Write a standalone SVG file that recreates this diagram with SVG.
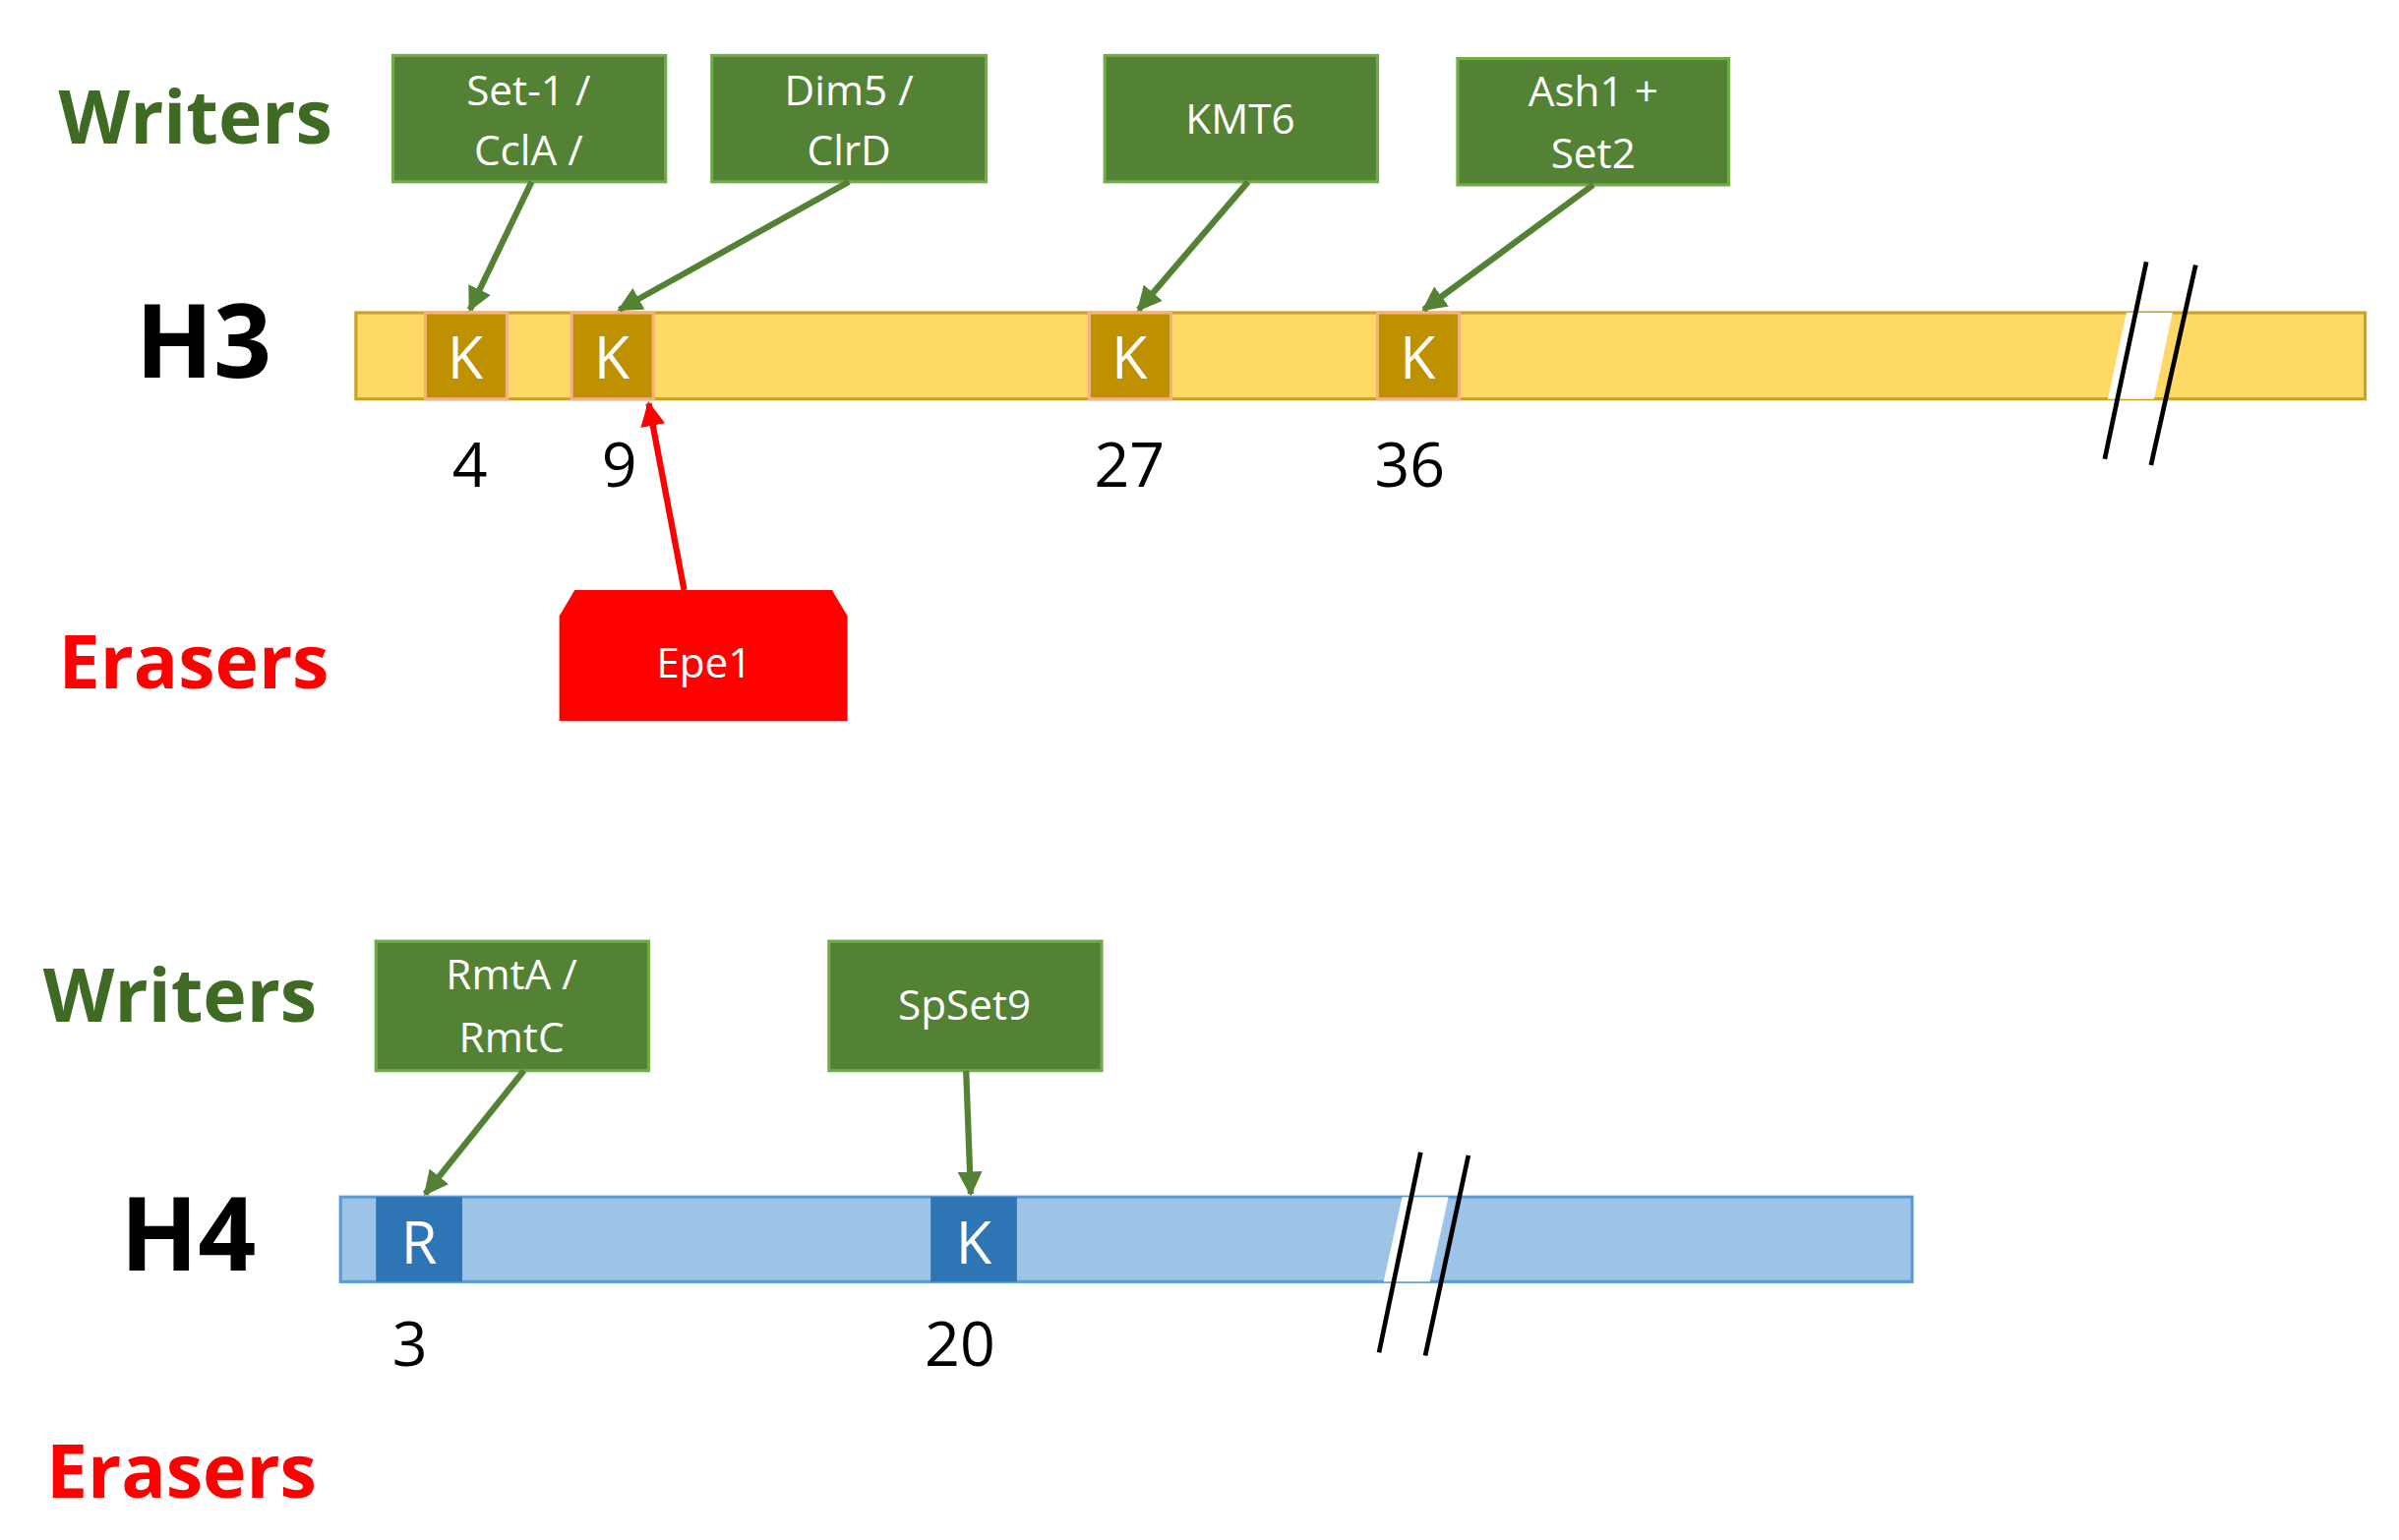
<svg xmlns="http://www.w3.org/2000/svg" width="2439" height="1566" viewBox="0 0 2439 1566">
<defs>
<marker id="ag" viewBox="0 0 10 10" refX="9" refY="5" markerWidth="4" markerHeight="4" orient="auto"><path d="M0,0L10,5L0,10z" fill="#548235"/></marker>
<marker id="ar" viewBox="0 0 10 10" refX="9" refY="5" markerWidth="4" markerHeight="4" orient="auto"><path d="M0,0L10,5L0,10z" fill="#ff0000"/></marker>
</defs>
<style>
text{font-family:"Open Sans","Liberation Sans",sans-serif}
.lbl{font-size:48px;font-weight:bold}
.wr{fill:#3f6a23}
.er{fill:#ff0000}
.hn{font-size:66px;font-weight:bold;fill:#000}
.box{fill:#548235;stroke:#70ad47;stroke-width:2}
.bt{fill:#fff;font-size:27px;text-anchor:middle}
.kb{fill:#bf9000;stroke:#f4b183;stroke-width:2}
.rb{fill:#2e75b6}
.kt{fill:#fff;font-size:38px;text-anchor:middle}
.num{font-size:40px;text-anchor:middle;fill:#000}
.ga{stroke:#548235;stroke-width:4;fill:none;marker-end:url(#ag)}
.ra{stroke:#ff0000;stroke-width:4;fill:none;marker-end:url(#ar)}
.brk{stroke:#000;stroke-width:3}
</style>
<rect width="2439" height="1566" fill="#fff"/>
<g transform="scale(1.5665)">
<text class="lbl wr" x="38" y="93">Writers</text>
<text class="hn" x="88" y="245">H3</text>
<text class="lbl er" x="38" y="447">Erasers</text>
<text class="lbl wr" x="28" y="663">Writers</text>
<text class="hn" x="78" y="825">H4</text>
<text class="lbl er" x="30" y="972">Erasers</text>

<g id="h3bar">
<rect x="231" y="203" width="1304" height="56" fill="#ffd966" stroke="#c9a227" stroke-width="2"/>
<polygon points="1380,203 1410,203 1398,259 1368,259" fill="#fff"/>
</g>
<g id="h3k4"><rect class="kb" x="276" y="203" width="53" height="56"/><text class="kt" x="302" y="246">K</text></g>
<g id="h3k9"><rect class="kb" x="371" y="203" width="53" height="56"/><text class="kt" x="397" y="246">K</text></g>
<g id="h3k27"><rect class="kb" x="707" y="203" width="53" height="56"/><text class="kt" x="733" y="246">K</text></g>
<g id="h3k36"><rect class="kb" x="894" y="203" width="53" height="56"/><text class="kt" x="920" y="246">K</text></g>
<text class="num" x="305" y="316">4</text>
<text class="num" x="402" y="316">9</text>
<text class="num" x="733" y="316">27</text>
<text class="num" x="915" y="316">36</text>
<line class="brk" x1="1366" y1="298" x2="1393" y2="170"/>
<line class="brk" x1="1396" y1="302" x2="1425" y2="172"/>

<g id="set1"><rect class="box" x="255" y="36" width="177" height="82"/><text class="bt" x="343" y="68">Set-1 /</text><text class="bt" x="343" y="107">CclA /</text></g>
<g id="dim5"><rect class="box" x="462" y="36" width="178" height="82"/><text class="bt" x="551" y="68">Dim5 /</text><text class="bt" x="551" y="107">ClrD</text></g>
<g id="kmt6"><rect class="box" x="717" y="36" width="177" height="82"/><text class="bt" x="805" y="87">KMT6</text></g>
<g id="ash1"><rect class="box" x="946" y="38" width="176" height="82"/><text class="bt" x="1034" y="69">Ash1 +</text><text class="bt" x="1034" y="109">Set2</text></g>
<g id="epe1"><polygon points="363,468 363,400 373,383 540,383 550,400 550,468" fill="#ff0000"/><text class="bt" x="457" y="440">Epe1</text></g>

<g id="h4bar">
<rect x="221" y="777" width="1020" height="55" fill="#9dc3e6" stroke="#5b9bd5" stroke-width="2"/>
<polygon points="910,777 940,777 928,832 898,832" fill="#fff"/>
</g>
<g id="h4r3"><rect class="rb" x="244" y="777" width="56" height="55"/><text class="kt" x="272" y="820">R</text></g>
<g id="h4k20"><rect class="rb" x="604" y="777" width="56" height="55"/><text class="kt" x="632" y="820">K</text></g>
<text class="num" x="266" y="887">3</text>
<text class="num" x="623" y="887">20</text>
<line class="brk" x1="895" y1="878" x2="922" y2="748"/>
<line class="brk" x1="925" y1="880" x2="953" y2="750"/>

<g id="rmta"><rect class="box" x="244" y="611" width="177" height="84"/><text class="bt" x="332" y="642">RmtA /</text><text class="bt" x="332" y="683">RmtC</text></g>
<g id="spset9"><rect class="box" x="538" y="611" width="177" height="84"/><text class="bt" x="626" y="662">SpSet9</text></g>

<g id="connectors">
<line class="ga" x1="345" y1="118" x2="305" y2="201"/>
<line class="ga" x1="551" y1="118" x2="402" y2="201"/>
<line class="ga" x1="810" y1="118" x2="739" y2="201"/>
<line class="ga" x1="1034" y1="120" x2="924" y2="201"/>
<line class="ra" x1="444" y1="383" x2="421" y2="262"/>
<line class="ga" x1="340" y1="695" x2="276" y2="775"/>
<line class="ga" x1="627" y1="695" x2="630" y2="775"/>
</g>
</g>
</svg>
